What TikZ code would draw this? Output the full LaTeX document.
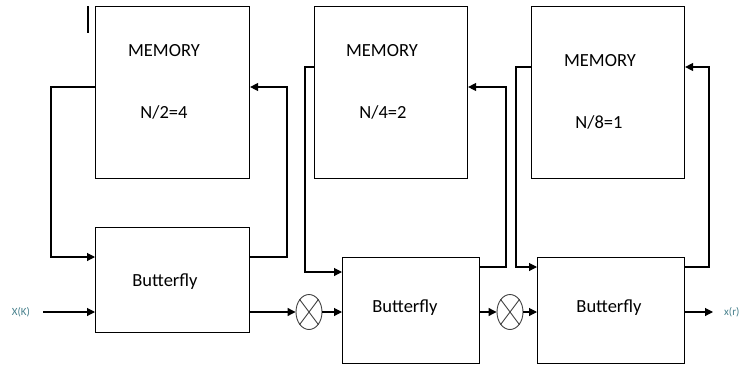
\documentclass[tikz,border=0pt]{standalone}
\usepackage{fontspec}
\setmainfont{Carlito}
\usetikzlibrary{arrows.meta,shapes.geometric}
\definecolor{lbl}{rgb}{0.28,0.5,0.55}
\tikzset{
  box/.style={draw, line width=1.1pt, rectangle, inner sep=0pt, anchor=north west},
  txt/.style={font=\fontsize{18.5}{21}\selectfont, inner sep=0pt},
  arr/.style={line width=1.1pt, -{Triangle[length=8pt,width=8pt]}},
  mult/.style={draw=black!75, line width=0.9pt, ellipse, minimum width=26pt, minimum height=35pt, inner sep=0pt},
  small/.style={font=\fontsize{11}{12}\selectfont, text=lbl, inner sep=0pt}
}
\begin{document}
\begin{tikzpicture}[x=1pt,y=-1pt]
\useasboundingbox (0,0) rectangle (739,367);
% boxes
\node[box, minimum width=154pt, minimum height=172pt] (m1) at (95,6) {};
\node[box, minimum width=154pt, minimum height=105pt] (b1) at (95,227) {};
\node[box, minimum width=153pt, minimum height=172pt] (m2) at (314,6) {};
\node[box, minimum width=137pt, minimum height=106pt] (b2) at (342,257) {};
\node[box, minimum width=153pt, minimum height=172pt] (m3) at (531,6) {};
\node[box, minimum width=147pt, minimum height=106pt] (b3) at (537,257) {};
% texts
\node[txt] (t1a) at (164,51) {MEMORY};
\node[txt] (t1b) at (164,112) {N/2=4};
\node[txt] (t2a) at (382,51) {MEMORY};
\node[txt] (t2b) at (383,112) {N/4=2};
\node[txt] (t3a) at (600,61) {MEMORY};
\node[txt] (t3b) at (599,122) {N/8=1};
\node[txt] (t4) at (165,282) {Butterfly};
\node[txt] (t5) at (405,308) {Butterfly};
\node[txt] (t6) at (609,308) {Butterfly};
% tick mark
\coordinate (tk1) at (88,6);
\coordinate (tk2) at (88,33);
\draw[line width=2pt] (tk1) -- (tk2);
% multipliers
\node[mult] (c1) at (309,312) {};
\node[mult] (c2) at (510,312) {};
\foreach \c in {c1,c2}{
  \draw[black!75, line width=0.9pt] (\c.north west) -- (\c.south east);
  \draw[black!75, line width=0.9pt] (\c.north east) -- (\c.south west);
}
% input / output
\node[small] (xin) at (21,312) {X(K)};
\coordinate (in) at (43,312);
\coordinate (out) at (713,312);
\node[small, anchor=west] (xout) at (724,312) {x(r)};
\draw[arr] (in) -- (b1.west |- 0,312);
\draw[arr] (b1.east |- 0,312) -- (c1.west);
\draw[arr] (c1.east) -- (b2.west |- 0,312);
\draw[arr] (b2.east |- 0,312) -- (c2.west);
\draw[arr] (c2.east) -- (b3.west |- 0,312);
\draw[arr] (b3.east |- 0,312) -- (out);
% feedback loops stage 1
\draw[arr] (m1.west |- 0,87) -- (51,87) |- (b1.west |- 0,257);
\draw[arr] (b1.east |- 0,257) -- (287,257) |- (m1.east |- 0,87);
% stage 2
\draw[arr] (m2.west |- 0,67) -- (305,67) |- (b2.west |- 0,272);
\draw[arr] (b2.east |- 0,267) -- (506,267) |- (m2.east |- 0,87);
% stage 3
\draw[arr] (m3.west |- 0,67) -- (516,67) |- (b3.west |- 0,267);
\draw[arr] (b3.east |- 0,267) -- (709,267) |- (m3.east |- 0,67);
\end{tikzpicture}
\end{document}
